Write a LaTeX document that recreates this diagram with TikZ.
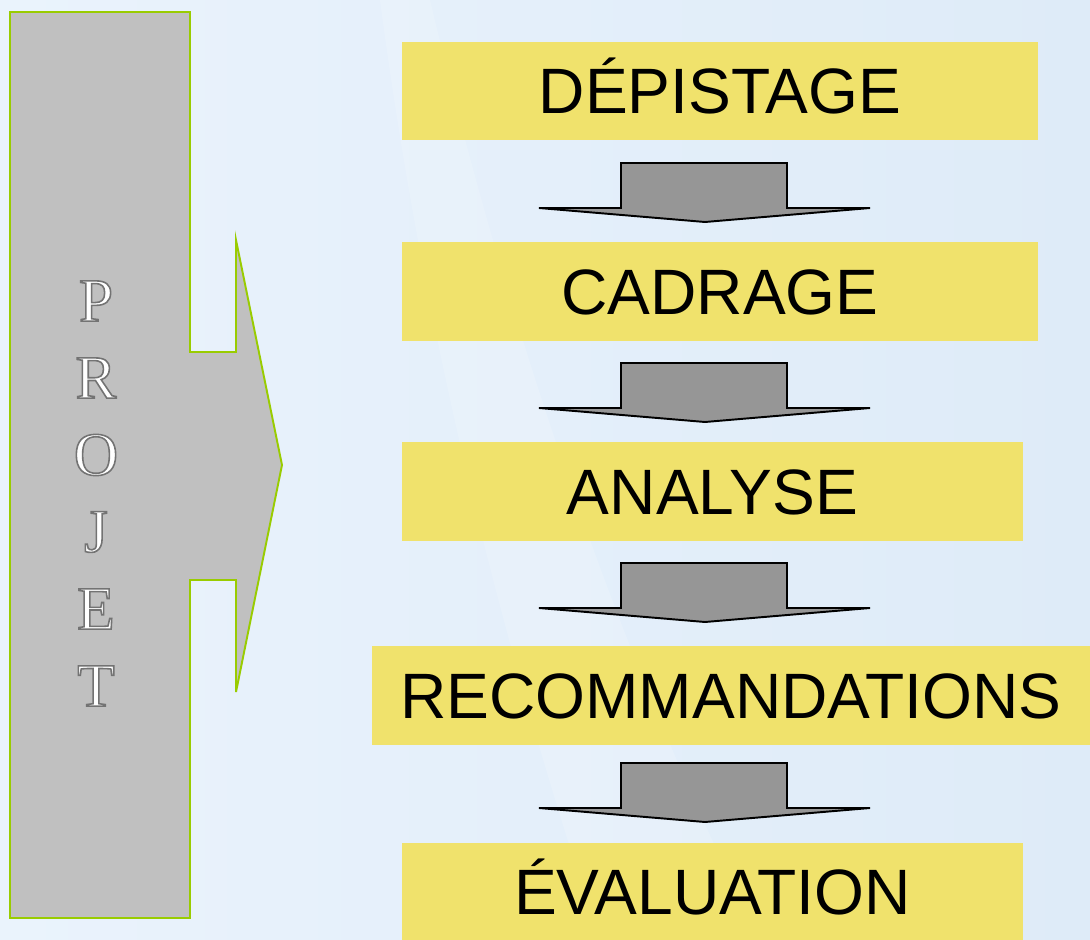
\documentclass[tikz,border=0pt]{standalone}
\usepackage{fontspec}
\setmainfont{Liberation Sans}
\newfontfamily\engravefont{Liberation Serif}
\usepackage{xcolor}
\usepackage{tikz}
\usetikzlibrary{positioning}

\definecolor{bgblue}{RGB}{222,235,248}
\definecolor{bglight}{RGB}{234,243,252}
\definecolor{phaseyellow}{RGB}{240,226,108}
\definecolor{projetgray}{RGB}{192,192,192}
\definecolor{projetgreen}{RGB}{153,204,0}
\definecolor{arrowgray}{RGB}{150,150,150}

% white letters with a grey outline
\newcommand\engraved[1]{\special{pdf:literal direct 2 Tr 0.9 w 0.45 G}#1\special{pdf:literal direct 0 Tr}}

\tikzset{
	phase/.style={fill=phaseyellow, inner sep=0pt, minimum height=1.98cm,
		font=\fontsize{36.5}{40}\selectfont, text height=26.1pt, text depth=0pt},
	engrave/.style={font=\engravefont\fontsize{35}{36}\selectfont, text=white},
	phasearrow/.pic={
		\draw[fill=arrowgray, draw=black, line width=1.1pt, line join=miter]
			(-166,0) -- (-84,0) -- (-84,-45) -- (82,-45) -- (82,0) -- (165,0) -- (0,14) -- cycle;
	}
}

\begin{document}
\begin{tikzpicture}[x=0.02cm, y=-0.02cm]
		\useasboundingbox (0,0) rectangle (1090,940);
		\shade[left color=bglight, right color=bgblue] (0,0) rectangle (1090,940);
		\fill[white, opacity=0.15] (430,0) .. controls (520,380) and (640,700) .. (760,940) -- (600,940) .. controls (520,700) and (430,380) .. (380,0) -- cycle;
		
		% projet
		\draw[fill=projetgray, draw=projetgreen, line width=1.1pt, line join=miter]
			(10,12) -- (190,12) -- (190,352) -- (236,352) -- (236,240) -- (282,465)
			-- (236,692) -- (236,580) -- (190,580) -- (190,918) -- (10,918) -- cycle;
		\foreach \l [count=\i] in {P,R,O,J,E,T}
			\node[engrave] (letter\i) at (96,301+77*\i-77) {\engraved{\l}};
		
		% phases
		\node[phase, minimum width=12.72cm] (depistage) at (720,91) {DÉPISTAGE};
		\node[phase, minimum width=12.72cm] (cadrage) at (720,291.5) {CADRAGE};
		\node[phase, minimum width=12.42cm] (analyse) at (712.5,491.5) {ANALYSE};
		\node[phase, minimum width=14.36cm] (recommandations) at (731,695.5) {RECOMMANDATIONS};
		\node[phase, minimum width=12.42cm] (evaluation) at (712.5,892) {ÉVALUATION};
		
		\pic at (705,208) {phasearrow};
		\pic at (705,408) {phasearrow};
		\pic at (705,608) {phasearrow};
		\pic at (705,808) {phasearrow};
\end{tikzpicture}
\end{document}
